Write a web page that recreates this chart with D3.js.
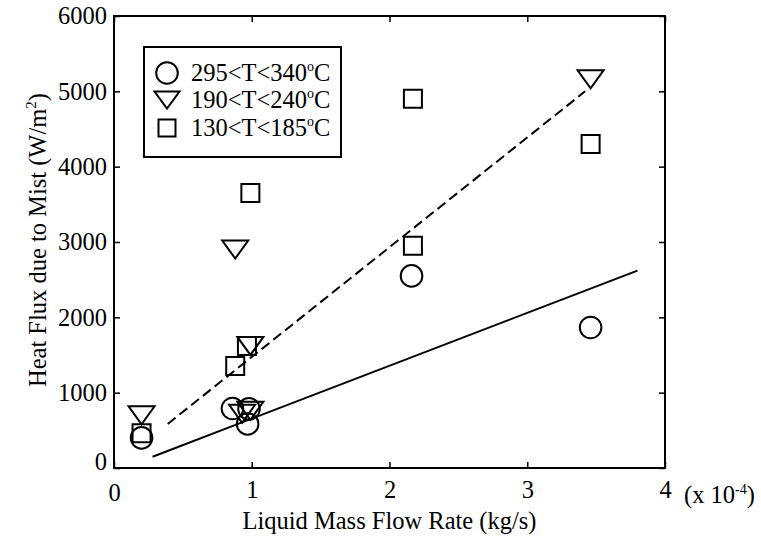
<!DOCTYPE html>
<html><head><meta charset="utf-8">
<script src="https://cdn.jsdelivr.net/npm/d3@7/dist/d3.min.js"></script>
<style>body{margin:0;background:#fff}svg{display:block}text{font-family:"Liberation Serif","Times New Roman",serif;fill:#000}</style>
</head><body><svg id="c" width="761" height="539"></svg>
<script>
// Data (x in units of 1e-4 kg/s, y in W/m^2)
const circleX = [0.2, 0.86, 0.98, 0.97, 2.16, 3.46];
const circleY = [400, 790, 785, 585, 2550, 1865];
const triX = [0.2, 0.88, 0.99, 0.93, 0.99, 3.46];
const triY = [700, 2900, 1620, 720, 760, 5160];
const sqX = [0.2, 0.88, 0.965, 0.99, 2.17, 2.17, 3.46];
const sqY = [460, 1355, 1620, 3650, 4900, 2950, 4300];
const solidFitX = [0.28, 3.8];
const solidFitY = [150, 2620];
const dashFitX = [0.39, 3.42];
const dashFitY = [585, 5000];
const xTicks = [0, 1, 2, 3, 4];
const yTicks = [0, 1000, 2000, 3000, 4000, 5000, 6000];
const legendLabels = [["295<T<340", "C"], ["190<T<240", "C"], ["130<T<185", "C"]];

const svg = d3.select("#c");
const m = {l:114, t:16, r:96, b:71};
const W = 761 - m.l - m.r, H = 539 - m.t - m.b;
const g = svg.append("g").attr("transform", `translate(${m.l},${m.t})`);
const x = d3.scaleLinear().domain([0, 4]).range([0, W]);
const y = d3.scaleLinear().domain([0, 6000]).range([H, 0]);

const fs = 24.5;
// axes with inward ticks
const axB = g.append("g").attr("transform", `translate(0,${H})`)
  .call(d3.axisBottom(x).tickValues(xTicks).tickSize(-6).tickPadding(13).tickFormat(d3.format("d")));
const axT = g.append("g").call(d3.axisTop(x).tickValues(xTicks).tickSize(-6).tickFormat(""));
const axL = g.append("g").call(d3.axisLeft(y).tickValues(yTicks).tickSize(-6).tickPadding(7).tickFormat(d3.format("d")));
const axR = g.append("g").attr("transform", `translate(${W},0)`)
  .call(d3.axisRight(y).tickValues(yTicks).tickSize(-6).tickFormat(""));
[axB, axT, axL, axR].forEach(a => {
  a.select(".domain").remove();
  a.selectAll("line").attr("stroke", "#000").attr("stroke-width", 1.5);
  a.selectAll("text").style("font-family", '"Liberation Serif",serif').style("font-size", fs + "px").attr("fill", "#000");
});
axL.selectAll(".tick text").filter(d => d === 0).attr("dy", "0.05em");
axB.selectAll(".tick text").filter(d => d === 0).attr("dy", "0.8em");
// frame
g.append("rect").attr("x", 0).attr("y", 0).attr("width", W).attr("height", H)
  .attr("fill", "none").attr("stroke", "#000").attr("stroke-width", 2);

// exponent label
const ex = g.append("text").attr("x", x(4) + 19).attr("y", H + 35).style("font-size", fs + "px");
ex.append("tspan").text("(x 10");
ex.append("tspan").attr("dy", -9).style("font-size", "14px").text("-4");
ex.append("tspan").attr("dy", 9).text(")");

// fit lines
const line = d3.line().x(d => x(d[0])).y(d => y(d[1]));
g.append("path").datum(d3.zip(solidFitX, solidFitY)).attr("d", line)
  .attr("fill", "none").attr("stroke", "#000").attr("stroke-width", 2);
g.append("path").datum(d3.zip(dashFitX, dashFitY)).attr("d", line)
  .attr("fill", "none").attr("stroke", "#000").attr("stroke-width", 2).attr("stroke-dasharray", "10,5");

// markers
const circ = d3.symbol().type(d3.symbolCircle).size(Math.PI * 10.8 * 10.8)();
function triPath(w, h) { return `M${-w/2},${-h/2}L${w/2},${-h/2}L0,${h/2}Z`; }
function drawPts(xs, ys, pathStr) {
  g.append("g").selectAll("path").data(d3.zip(xs, ys)).join("path")
    .attr("d", pathStr)
    .attr("transform", d => `translate(${x(d[0])},${y(d[1])})`)
    .attr("fill", "none").attr("stroke", "#000").attr("stroke-width", 2);
}
drawPts(circleX, circleY, circ);
drawPts(triX, triY, triPath(26, 18));
drawPts(sqX, sqY, "M-9,-9H9V9H-9Z");

// legend
const lg = svg.append("g");
lg.append("rect").attr("x", 144).attr("y", 47).attr("width", 197).attr("height", 110)
  .attr("fill", "#fff").attr("stroke", "#000").attr("stroke-width", 2);
const legPaths = [circ, triPath(25, 17), "M-8.5,-8.5H8.5V8.5H-8.5Z"];
const legY = [73, 100, 128];
legendLabels.forEach((lab, i) => {
  lg.append("path").attr("d", legPaths[i]).attr("transform", `translate(167,${legY[i]})`)
    .attr("fill", "none").attr("stroke", "#000").attr("stroke-width", 2);
  const t = lg.append("text").attr("x", 191).attr("y", legY[i] + 8).style("font-size", fs + "px");
  t.append("tspan").text(lab[0]);
  t.append("tspan").attr("dy", -10).style("font-size", "14px").text("o");
  t.append("tspan").attr("dy", 10).text(lab[1]);
});

// axis titles
svg.append("text").attr("x", m.l + W / 2).attr("y", 529).attr("text-anchor", "middle")
  .style("font-size", fs + "px").text("Liquid Mass Flow Rate (kg/s)");
const yt = svg.append("text").attr("transform", `translate(46,${m.t + H / 2 - 2}) rotate(-90)`)
  .attr("text-anchor", "middle").style("font-size", fs + "px");
yt.append("tspan").text("Heat Flux due to Mist (W/m");
yt.append("tspan").attr("dy", -10).style("font-size", "15px").text("2");
yt.append("tspan").attr("dy", 10).text(")");
</script></body></html>
